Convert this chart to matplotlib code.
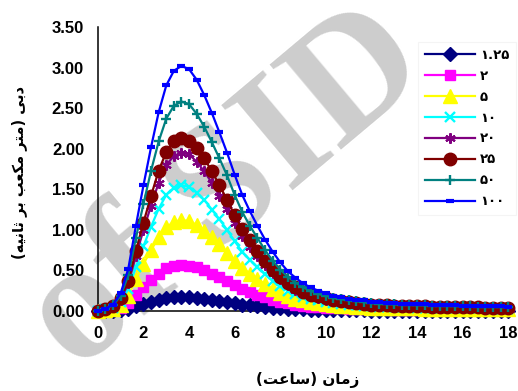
#!/usr/bin/env python3
"""Flood hydrographs for several return periods."""

import numpy as np
import matplotlib

matplotlib.use("Agg")
import matplotlib.pyplot as plt


# time axis, 20-minute steps from 0 to 18 h
hours = np.arange(55) / 3.0

q_1_25 = [0.00, 0.002, 0.005, 0.012, 0.03, 0.06, 0.09, 0.11, 0.14, 0.16, 0.17, 0.17, 0.17, 0.16,
          0.15, 0.14, 0.12, 0.11, 0.094, 0.08, 0.069, 0.059, 0.049, 0.041, 0.034, 0.027, 0.023,
          0.019, 0.016, 0.014, 0.012, 0.011, 0.01, 0.008, 0.008, 0.007, 0.006, 0.006, 0.006,
          0.005, 0.005, 0.005, 0.005, 0.004, 0.004, 0.004, 0.004, 0.004, 0.004, 0.004, 0.004,
          0.003, 0.003, 0.003, 0.003]
q_2 = [0.00, 0.01, 0.015, 0.04, 0.10, 0.20, 0.29, 0.38, 0.46, 0.53, 0.56, 0.57, 0.56, 0.54,
       0.50, 0.46, 0.42, 0.37, 0.32, 0.27, 0.23, 0.20, 0.17, 0.14, 0.11, 0.093, 0.077, 0.064,
       0.055, 0.047, 0.042, 0.036, 0.032, 0.028, 0.026, 0.025, 0.021, 0.02, 0.019, 0.018,
       0.017, 0.016, 0.016, 0.015, 0.015, 0.014, 0.014, 0.013, 0.013, 0.012, 0.012, 0.012,
       0.011, 0.011, 0.01]
q_5 = [0.00, 0.01, 0.03, 0.08, 0.19, 0.39, 0.58, 0.75, 0.91, 1.03, 1.10, 1.12, 1.11, 1.06,
       0.99, 0.91, 0.82, 0.72, 0.62, 0.53, 0.46, 0.39, 0.33, 0.27, 0.22, 0.18, 0.15, 0.13,
       0.11, 0.093, 0.082, 0.07, 0.063, 0.056, 0.052, 0.048, 0.041, 0.039, 0.037, 0.035,
       0.033, 0.032, 0.031, 0.03, 0.029, 0.028, 0.027, 0.026, 0.025, 0.024, 0.023, 0.023,
       0.022, 0.021, 0.02]
q_10 = [0.00, 0.02, 0.04, 0.11, 0.27, 0.54, 0.80, 1.04, 1.26, 1.43, 1.52, 1.55, 1.53, 1.46,
        1.37, 1.25, 1.13, 1.00, 0.86, 0.73, 0.63, 0.54, 0.45, 0.37, 0.31, 0.25, 0.21, 0.17,
        0.15, 0.13, 0.11, 0.097, 0.087, 0.077, 0.072, 0.067, 0.056, 0.054, 0.051, 0.049,
        0.046, 0.045, 0.043, 0.042, 0.04, 0.038, 0.037, 0.036, 0.034, 0.033, 0.032, 0.031,
        0.03, 0.029, 0.028]
q_20 = [0.00, 0.02, 0.05, 0.14, 0.34, 0.68, 1.00, 1.30, 1.58, 1.80, 1.91, 1.95, 1.93, 1.84,
        1.72, 1.58, 1.42, 1.26, 1.09, 0.92, 0.79, 0.68, 0.57, 0.47, 0.39, 0.32, 0.26, 0.22,
        0.19, 0.16, 0.14, 0.12, 0.11, 0.097, 0.09, 0.084, 0.071, 0.068, 0.065, 0.061, 0.058,
        0.056, 0.054, 0.052, 0.05, 0.048, 0.047, 0.045, 0.043, 0.042, 0.041, 0.039, 0.038,
        0.037, 0.036]
q_25 = [0.00, 0.02, 0.06, 0.16, 0.37, 0.74, 1.09, 1.42, 1.73, 1.96, 2.09, 2.13, 2.10, 2.01,
        1.88, 1.72, 1.55, 1.37, 1.18, 1.01, 0.87, 0.74, 0.62, 0.51, 0.42, 0.35, 0.29, 0.24,
        0.20, 0.18, 0.155, 0.134, 0.12, 0.106, 0.099, 0.092, 0.078, 0.074, 0.07, 0.067,
        0.063, 0.061, 0.059, 0.057, 0.055, 0.053, 0.051, 0.049, 0.047, 0.046, 0.044, 0.043,
        0.042, 0.04, 0.039]
q_50 = [0.00, 0.03, 0.07, 0.19, 0.44, 0.90, 1.32, 1.73, 2.09, 2.37, 2.53, 2.58, 2.55, 2.43,
        2.27, 2.08, 1.88, 1.67, 1.43, 1.22, 1.05, 0.90, 0.75, 0.62, 0.51, 0.42, 0.35, 0.29,
        0.25, 0.21, 0.19, 0.16, 0.145, 0.13, 0.12, 0.11, 0.095, 0.09, 0.085, 0.081, 0.077,
        0.074, 0.072, 0.069, 0.067, 0.064, 0.062, 0.06, 0.057, 0.056, 0.054, 0.052, 0.05,
        0.049, 0.047]
q_100 = [0.00, 0.03, 0.08, 0.22, 0.52, 1.05, 1.55, 2.02, 2.45, 2.78, 2.96, 3.02, 2.98, 2.85,
         2.66, 2.44, 2.20, 1.95, 1.68, 1.43, 1.23, 1.05, 0.88, 0.73, 0.60, 0.49, 0.41, 0.34,
         0.29, 0.25, 0.22, 0.19, 0.17, 0.15, 0.14, 0.13, 0.11, 0.105, 0.10, 0.095, 0.09,
         0.087, 0.084, 0.081, 0.078, 0.075, 0.072, 0.07, 0.067, 0.065, 0.063, 0.061, 0.059,
         0.057, 0.055]

series = [q_1_25, q_2, q_5, q_10, q_20, q_25, q_50, q_100]
labels = ["۱.۲۵", "۲", "۵", "۱۰", "۲۰", "۲۵", "۵۰", "۱۰۰"]
colors = ["#000080", "#FF00FF", "#FFFF00", "#00FFFF", "#800080", "#800000", "#008080", "#0000FF"]
markers = ["D", "s", "^", "x", (6, 2, 0), "o", "+", "_"]
marker_sizes = [7, 7.5, 9.5, 7.5, 7.5, 9, 7.5, 6]
marker_edges = [1, 1, 1, 1.7, 1.5, 1, 1.7, 3]

# matplotlib does no Arabic shaping, so the Persian labels are written
# with presentation forms in visual (left-to-right) order
x_label = "(\uFE96\uFECB\uFE8E\uFEB3) \uFEE5\uFE8E\uFEE3\uFEAF"
y_label = ("(\uFEEA\uFEF4\uFEE7\uFE8E\uFE9B \uFEAE\uFE91 \uFE90\uFECC\uFEDC\uFEE3 "
           "\uFEAE\uFE98\uFEE3) \uFEF0\uFE91\uFEA9")

fig = plt.figure(figsize=(5.18, 3.91), dpi=100)
fig.patch.set_facecolor("white")
fig.text(0.44, 0.51, "of SID", rotation=40, fontsize=122, fontweight="bold",
         family="Liberation Serif", color="#cdcdcd", ha="center", va="center", zorder=-5)

ax = fig.add_axes([0.189, 0.2046, 0.792, 0.7264])
ax.patch.set_alpha(0)

for vals, lab, col, mk, ms, mew in zip(series, labels, colors, markers, marker_sizes, marker_edges):
    ax.plot(hours, vals, color=col, lw=1.6, marker=mk, ms=ms, mew=mew, mec=col, mfc=col,
            label=lab, zorder=3, clip_on=False)

ax.set_xlim(0, 18)
ax.set_ylim(0, 3.5)
ax.set_xticks(range(0, 19, 2))
ax.set_yticks(np.arange(0, 3.51, 0.5))
ax.set_yticklabels([f"{v:.2f}" for v in np.arange(0, 3.51, 0.5)])
ax.tick_params(axis="both", length=0, labelsize=12)
ax.tick_params(axis="x", pad=11)
ax.tick_params(axis="y", pad=10)
for lbl in ax.get_xticklabels() + ax.get_yticklabels():
    lbl.set_fontweight("bold")
    lbl.set_family("Liberation Sans")

for side in ["top", "right"]:
    ax.spines[side].set_visible(False)
for side in ["left", "bottom"]:
    ax.spines[side].set_linewidth(1.1)
    ax.spines[side].set_zorder(1)

fig.text(0.593, 0.028, x_label, ha="center", va="center", fontsize=11, fontweight="bold",
         family="DejaVu Sans")
fig.text(0.037, 0.56, y_label, ha="center", va="center", rotation=90, fontsize=10.5,
         fontweight="bold", family="DejaVu Sans")

leg = ax.legend(loc="upper left", bbox_to_anchor=(0.807, 0.892),
                bbox_transform=fig.transFigure, frameon=True, fancybox=False,
                handlelength=3.8, handletextpad=0.4, labelspacing=0.6, borderpad=0.5,
                borderaxespad=0, prop={"family": "DejaVu Sans", "weight": "bold", "size": 9.5})
leg.get_frame().set_edgecolor("#f2f2f2")
leg.get_frame().set_linewidth(0.8)

fig.savefig("out.png", dpi=100)
